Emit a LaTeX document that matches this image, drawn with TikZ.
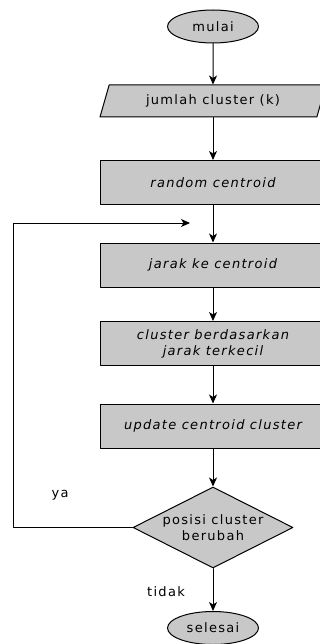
\documentclass[tikz,border=0pt]{standalone}
\usepackage{fontspec}
\newfontfamily\flowfont[LetterSpace=10]{DejaVu Sans}
\usetikzlibrary{shapes.geometric,arrows.meta}
\definecolor{boxgray}{RGB}{200,200,200}
\begin{document}
\begin{tikzpicture}[x=1pt,y=-1pt,line width=1pt,line cap=round,line join=round,>={Stealth[length=9pt,width=8pt,inset=2.5pt]},
	every node/.style={font=\flowfont\fontsize{13}{16}\selectfont},
	terminal/.style={ellipse,draw,fill=boxgray,minimum width=91pt,minimum height=33pt,inner sep=0pt},
	data/.style={trapezium,trapezium left angle=54,trapezium right angle=126,trapezium stretches body,draw,fill=boxgray,minimum width=226pt,minimum height=32pt,inner sep=0pt},
	proses/.style={rectangle,draw,fill=boxgray,minimum width=226pt,minimum height=44pt,inner sep=0pt,align=center,font=\flowfont\fontsize{13}{16}\selectfont\itshape},
	keputusan/.style={diamond,aspect=2,draw,fill=boxgray,minimum width=160pt,minimum height=81pt,inner sep=0pt,align=center}]
	\useasboundingbox (0,0) rectangle (320,644);
	% alur utama
	\node[terminal] (mulai) at (213,26.5) {mulai};
	\node[data] (jumlah) at (213,101) {jumlah cluster (k)};
	\node[proses] (random) at (213,182.5) {random centroid};
	\node[proses] (jarak) at (213,265) {jarak ke centroid};
	\node[proses] (kelompok) at (213,343.5) {cluster berdasarkan\\jarak terkecil};
	\node[proses] (update) at (213,426) {update centroid cluster};
	\node[keputusan] (posisi) at (213,527.5) {posisi cluster\\berubah};
	\node[terminal] (selesai) at (213,628) {selesai};
	\draw[->] (mulai) -- (jumlah);
	\draw[->] (jumlah) -- (random);
	\draw[->] (random) -- (jarak);
	\draw[->] (jarak) -- (kelompok);
	\draw[->] (kelompok) -- (update);
	\draw[->] (update) -- (posisi);
	\draw[->] (posisi) -- (selesai);
	% perulangan
	\coordinate (kiri) at (13,223);
	\coordinate (masuk) at (190,223);
	\draw[->] (posisi.west) -| (kiri) -- (masuk);
	\node (ya) at (60,495) {ya};
	\node (tidak) at (166,592) {tidak};
\end{tikzpicture}
\end{document}
